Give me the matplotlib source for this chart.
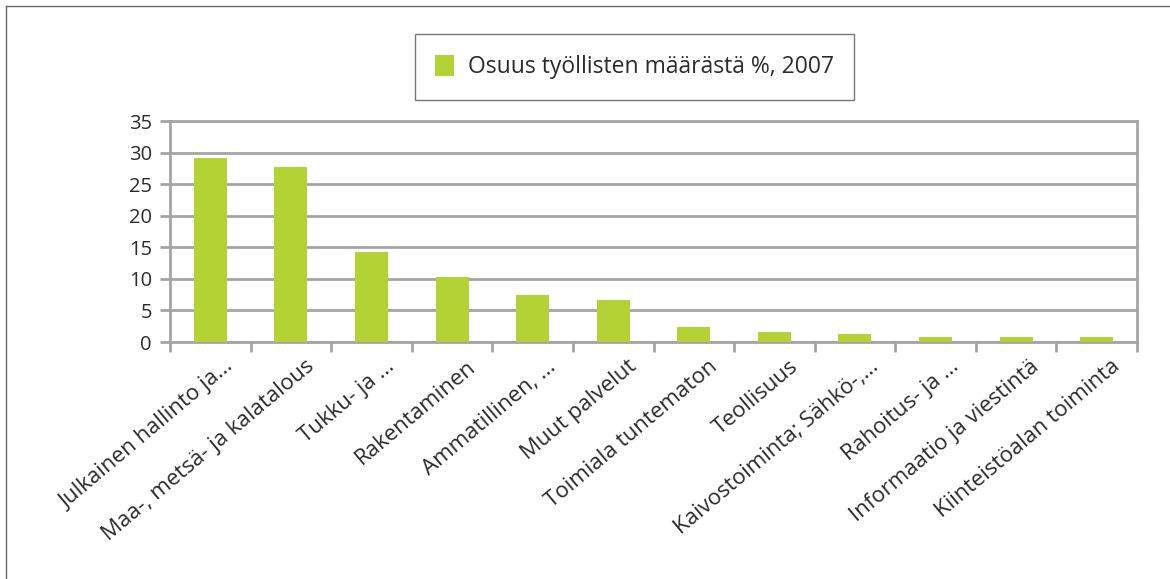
import matplotlib.pyplot as plt
import matplotlib.transforms as mtransforms
import numpy as np
from matplotlib.lines import Line2D

plt.rcParams['font.family'] = ['Open Sans', 'DejaVu Sans']

categories = ['Julkainen hallinto ja…', 'Maa-, metsä- ja kalatalous', 'Tukku- ja …',
              'Rakentaminen', 'Ammatillinen, …', 'Muut palvelut', 'Toimiala tuntematon',
              'Teollisuus', 'Kaivostoiminta; Sähkö-,…', 'Rahoitus- ja …',
              'Informaatio ja viestintä', 'Kiinteistöalan toiminta']
values = [29.2, 27.7, 14.2, 10.3, 7.5, 6.7, 2.3, 1.6, 1.2, 0.8, 0.8, 0.8]
series_name = 'Osuus työllisten määrästä %, 2007'
y_ticks = [0, 5, 10, 15, 20, 25, 30, 35]

green = '#B3D334'
grid_c = '#A3A5A8'
text_c = '#2B2B2B'

fig = plt.figure(figsize=(11.7, 5.79), dpi=100)
ax = fig.add_axes([0.1453, 0.4093, 0.8265, 0.3817])

x = np.arange(len(categories))
bars = ax.bar(x, values, width=0.41, color=green, zorder=3, label=series_name)

ax.set_xlim(-0.5, len(categories) - 0.5)
ax.set_ylim(0, 35)
ax.set_yticks(y_ticks)
ax.set_yticklabels([str(v) for v in y_ticks], fontsize=14.5, color=text_c)
ax.yaxis.grid(True, color=grid_c, linewidth=2.0, zorder=0)
ax.set_axisbelow(True)

# category boundaries as x ticks
ax.set_xticks(np.arange(-0.5, len(categories) + 0.5, 1.0))
ax.set_xticklabels([])
ax.set_xticks(x, minor=True)
ax.set_xticklabels(categories, minor=True, rotation=40, ha='right',
                   rotation_mode='anchor', fontsize=16, color=text_c)
ax.tick_params(axis='x', which='minor', length=0, pad=10)
ax.tick_params(axis='x', which='major', length=7, width=2, color=grid_c)
ax.tick_params(axis='y', length=7, width=2, color=grid_c, pad=6)

shift = mtransforms.ScaledTranslation(14 / 100, 0, fig.dpi_scale_trans)
for lbl in ax.get_xticklabels(minor=True):
    lbl.set_transform(lbl.get_transform() + shift)

for s in ['left', 'right', 'bottom', 'top']:
    ax.spines[s].set_color(grid_c)
    ax.spines[s].set_linewidth(2.0)

leg = fig.legend(handles=[bars], labels=[series_name], loc='center',
                 bbox_to_anchor=(0.5423, 0.884), fontsize=16.5, frameon=True,
                 fancybox=False, edgecolor='#555555', handlelength=0.8,
                 handleheight=1.0, borderpad=0.9, borderaxespad=0,
                 handletextpad=0.6)
leg.get_frame().set_linewidth(1.0)
for t in leg.get_texts():
    t.set_color(text_c)

# outer border (left and top edges visible)
bx = 5.5 / 1170
by = 1 - 5.5 / 579
fig.lines.append(Line2D([bx, bx], [0, by], transform=fig.transFigure,
                        color='#666666', linewidth=1.0))
fig.lines.append(Line2D([bx, 1], [by, by], transform=fig.transFigure,
                        color='#666666', linewidth=1.0))

fig.savefig('out.png', dpi=100)
